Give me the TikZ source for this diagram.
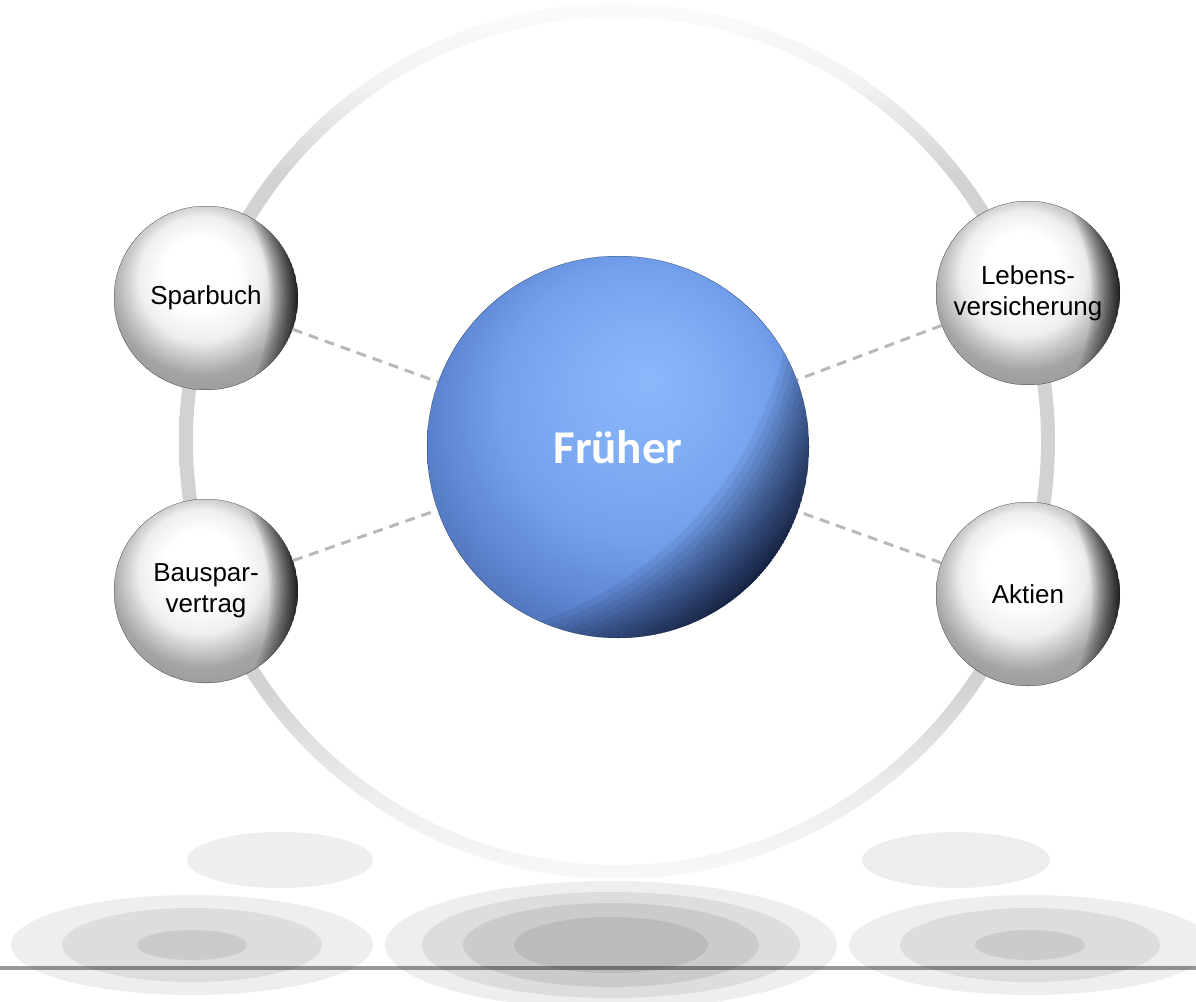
\documentclass[tikz,border=0pt]{standalone}
\usepackage{fontspec}
\setmainfont{Liberation Sans}
\newfontfamily\headfont{Carlito}

% ---------- colours ----------
\definecolor{ringtop}{HTML}{FBFBFB}
\definecolor{ringupper}{HTML}{F3F3F3}
\definecolor{ringfaint}{HTML}{F8F8F8}
\definecolor{ringlower}{HTML}{EDEDED}
\definecolor{ringgray}{HTML}{D2D2D2}

\definecolor{silverA}{HTML}{EEEEEE}
\definecolor{silverB}{HTML}{C8C8C8}
\definecolor{silverC}{HTML}{A4A4A4}
\definecolor{silverD}{HTML}{989898}

\definecolor{blueA}{HTML}{8BB8FB}
\definecolor{blueB}{HTML}{80ACF4}
\definecolor{blueC}{HTML}{72A0EC}
\definecolor{blueD}{HTML}{5F87D4}
\definecolor{blueE}{HTML}{4D70B4}
\definecolor{blueF}{HTML}{42619F}
\definecolor{bluedark}{HTML}{0C1226}

\definecolor{dashgray}{HTML}{B8B8B8}
\definecolor{shadeA}{HTML}{EEEEEE}
\definecolor{shadeB}{HTML}{DDDDDD}
\definecolor{shadeC}{HTML}{CBCBCB}
\definecolor{shadeD}{HTML}{BBBBBB}

% ---------- shadings ----------
% big ring: fades out towards top and bottom
\pgfdeclareverticalshading{ringshade}{100bp}{%
  color(0bp)=(ringfaint); color(25bp)=(ringfaint); color(30bp)=(ringlower);
  color(36bp)=(ringgray); color(65bp)=(ringgray); color(70.5bp)=(ringupper);
  color(75bp)=(ringtop); color(100bp)=(ringtop)}

% silver balls
\pgfdeclareradialshading{silverball}{\pgfpoint{-2bp}{8bp}}{%
  color(0bp)=(white); color(10bp)=(white); color(17bp)=(silverA);
  color(21bp)=(silverB); color(25bp)=(silverC); color(32bp)=(silverD);
  color(50bp)=(silverD)}

% blue ball
\pgfdeclareradialshading{blueball}{\pgfpoint{4bp}{9bp}}{%
  color(0bp)=(blueA); color(10bp)=(blueB); color(18bp)=(blueC);
  color(25bp)=(blueD); color(31bp)=(blueE); color(38bp)=(blueF);
  color(50bp)=(blueF)}

\tikzset{
  silversphere/.style={circle, inner sep=0pt, minimum size=184pt,
    shading=silverball},
  bluesphere/.style={circle, inner sep=0pt, minimum size=382pt,
    shading=blueball},
  label text/.style={font=\fontsize{26}{31}\selectfont, align=center, text=black},
  head text/.style={font=\headfont\bfseries\fontsize{47}{50}\selectfont, text=white},
  link/.style={draw=dashgray, line width=3pt, dash pattern=on 10pt off 7pt},
  floorline/.style={draw=black, draw opacity=0.4, line width=4pt}
}

\begin{document}
\begin{tikzpicture}[x=1pt, y=-1pt]
\useasboundingbox (0,0) rectangle (1196,1001);

% ---------- shadows on the floor ----------
\fill[shadeA] (280,860) ellipse [x radius=93pt, y radius=28pt];
\fill[shadeA] (956,860) ellipse [x radius=94pt, y radius=28pt];

\foreach \cx in {192,1030}{
  \fill[shadeA] (\cx,945) ellipse [x radius=181pt, y radius=50pt];
  \fill[shadeB] (\cx,945) ellipse [x radius=130pt, y radius=37pt];
  \fill[shadeC] (\cx,945) ellipse [x radius=55pt, y radius=15pt];
}
\fill[shadeA] (611,945) ellipse [x radius=226pt, y radius=64pt];
\fill[shadeB] (611,945) ellipse [x radius=189pt, y radius=53pt];
\fill[shadeC] (611,945) ellipse [x radius=148pt, y radius=42pt];
\fill[shadeD] (611,945) ellipse [x radius=97pt, y radius=28pt];

% ---------- big ring ----------
\shade[shading=ringshade, even odd rule]
  (617,441) circle [radius=438pt] (617,441) circle [radius=424pt];

% ---------- spheres ----------
\node[bluesphere] (center) at (618,447) {};
\node[silversphere] (spar) at (206,298) {};
\node[silversphere] (bauspar) at (206,591) {};
\node[silversphere] (leben) at (1028,293) {};
\node[silversphere] (aktien) at (1028,594) {};

% dark rim on the right side of the silver balls: stacked lens shapes,
% each the ball minus a large circle pushed in from the left
\foreach \n in {spar,bauspar,leben,aktien}{
  \begin{scope}
    \clip (\n.center) circle [radius=92pt];
    \foreach \k in {1,...,20}{
      \fill[black, opacity=0.08, even odd rule]
        (\n.center) circle [radius=92pt]
        ([xshift={-92pt-0.07pt*\k*\k}, yshift={-4pt}]\n.center) circle [radius=184pt];
    }
  \end{scope}
}
% dark rim on the lower right of the blue ball
\begin{scope}
  \clip (center.center) circle [radius=191pt];
  \foreach \k in {1,...,24}{
    \fill[bluedark, opacity=0.075, even odd rule]
      (center.center) circle [radius=191pt]
      ([xshift={-0.74*(191pt+0.15pt*\k*\k)}, yshift={0.67*(191pt+0.15pt*\k*\k)}]center.center)
        circle [radius=382pt];
  }
\end{scope}

% ---------- labels ----------
\node[head text] at (center) {Früher};
\node[label text] at (spar) {Sparbuch};
\node[label text] at (bauspar) {Bauspar-\\vertrag};
\node[label text] at (leben) {Lebens-\\versicherung};
\node[label text] at (aktien) {Aktien};

% ---------- connectors ----------
\draw[link] (spar) -- (center);
\draw[link] (bauspar) -- (center);
\draw[link] (leben) -- (center);
\draw[link] (aktien) -- (center);

% ---------- floor line ----------
\coordinate (floorL) at (0,968);
\coordinate (floorR) at (1196,968);
\draw[floorline] (floorL) -- (floorR);
\end{tikzpicture}
\end{document}
